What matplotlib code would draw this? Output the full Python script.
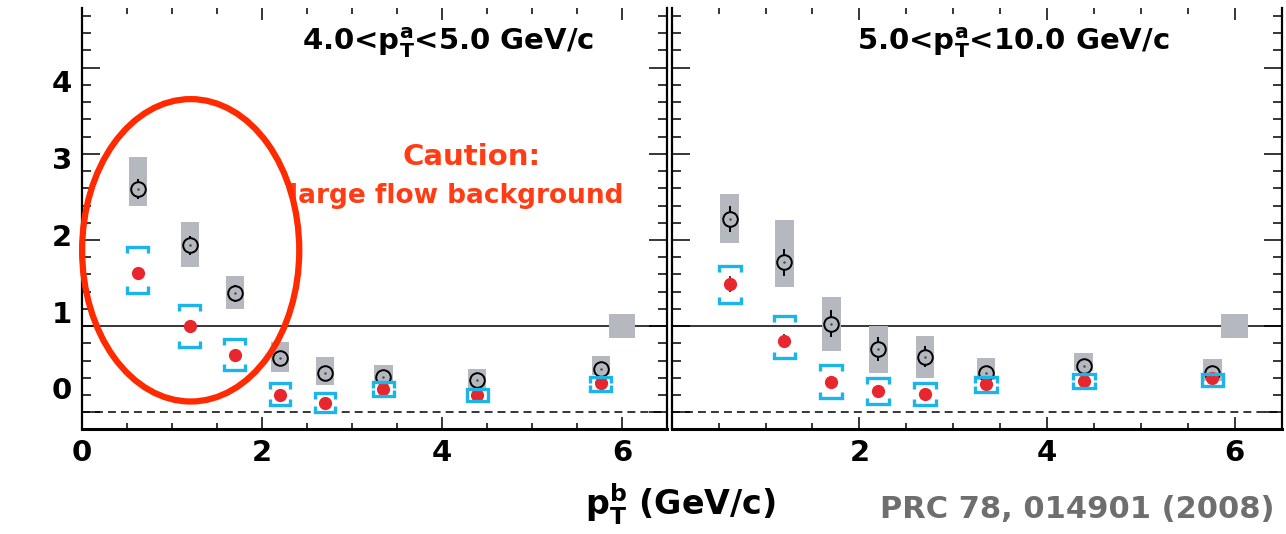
import numpy as np
import matplotlib
matplotlib.use("Agg")
import matplotlib.pyplot as plt
from matplotlib.patches import Ellipse
from matplotlib.ticker import MultipleLocator

plt.rcParams['font.family'] = ['DejaVu Sans']
plt.rcParams['font.weight'] = 'bold'
plt.rcParams['mathtext.fontset'] = 'dejavusans'

# associated-particle pT bins (same for both trigger bins)
pt_b = [0.62, 1.20, 1.70, 2.20, 2.70, 3.35, 4.39, 5.76]

# 4.0 < pT^a < 5.0 GeV/c
open_l = [2.59, 1.94, 1.38, 0.63, 0.45, 0.41, 0.375, 0.50]
open_l_err = [0.12, 0.11, 0.10, 0.08, 0.07, 0.05, 0.05, 0.07]
open_l_sys_lo = [2.40, 1.69, 1.195, 0.47, 0.317, 0.355, 0.28, 0.43]
open_l_sys_hi = [2.96, 2.21, 1.585, 0.82, 0.645, 0.55, 0.50, 0.65]
red_l = [1.62, 1.00, 0.66, 0.20, 0.11, 0.27, 0.20, 0.34]
red_l_err = [0.05, 0.05, 0.05, 0.04, 0.04, 0.03, 0.03, 0.04]
red_l_sys_lo = [1.39, 0.76, 0.49, 0.08, 0.0, 0.19, 0.13, 0.25]
red_l_sys_hi = [1.915, 1.24, 0.85, 0.34, 0.22, 0.355, 0.27, 0.41]

# 5.0 < pT^a < 10.0 GeV/c
open_r = [2.24, 1.74, 1.03, 0.73, 0.645, 0.45, 0.54, 0.46]
open_r_err = [0.15, 0.16, 0.16, 0.14, 0.12, 0.06, 0.06, 0.07]
open_r_sys_lo = [1.97, 1.45, 0.71, 0.45, 0.40, 0.375, 0.48, 0.36]
open_r_sys_hi = [2.53, 2.23, 1.34, 1.005, 0.88, 0.63, 0.69, 0.615]
red_r = [1.49, 0.83, 0.35, 0.25, 0.21, 0.325, 0.36, 0.395]
red_r_err = [0.09, 0.08, 0.07, 0.06, 0.05, 0.04, 0.04, 0.05]
red_r_sys_lo = [1.265, 0.63, 0.16, 0.10, 0.085, 0.23, 0.285, 0.30]
red_r_sys_hi = [1.70, 1.12, 0.55, 0.40, 0.34, 0.41, 0.44, 0.44]

# normalisation uncertainty box at pT^b = 6
norm_x = 6.0
norm_lo = 0.86
norm_hi = 1.14

titles = [r'4.0<p$_\mathbf{T}^\mathbf{a}$<5.0 GeV/c',
          r'5.0<p$_\mathbf{T}^\mathbf{a}$<10.0 GeV/c']

GRAY = '#b5b9bf'
RED = '#e8262e'
CYAN = '#1cb5ea'


def draw_brackets(ax, x, lo, hi, hw=0.115, leg=0.07):
    xs, ys = [], []
    for xi, l, h in zip(x, lo, hi):
        xs += [xi - hw, xi - hw, xi + hw, xi + hw, np.nan]
        ys += [h - leg, h, h, h - leg, np.nan]
        xs += [xi - hw, xi - hw, xi + hw, xi + hw, np.nan]
        ys += [l + leg, l, l, l + leg, np.nan]
    ax.plot(xs, ys, color=CYAN, lw=2.4, solid_joinstyle='miter',
            solid_capstyle='butt', zorder=6)


def draw_panel(ax, o, oerr, olo, ohi, r, rerr, rlo, rhi):
    x = np.array(pt_b)
    ax.axhline(1.0, color='black', lw=1.1, zorder=1)
    ax.axhline(0.0, color='black', lw=1.1, ls=(0, (5.2, 3.3)), zorder=1)
    ax.bar(x, np.array(ohi) - np.array(olo), bottom=olo, width=0.2,
           color=GRAY, zorder=2)
    ax.bar([norm_x], [norm_hi - norm_lo], bottom=[norm_lo], width=0.29,
           color=GRAY, zorder=2)
    ax.errorbar(x, o, yerr=oerr, fmt='o', ms=10.5, mfc=GRAY, mec='black',
                mew=1.4, ecolor='black', elinewidth=1.4, capsize=0, zorder=3)
    ax.plot(x, o, '.', color='#444444', ms=1.5, zorder=4)
    ax.errorbar(x, r, yerr=rerr, fmt='o', ms=9.5, mfc=RED, mec=RED, mew=0,
                ecolor='#3a1010', elinewidth=1.2, capsize=0, zorder=5)
    draw_brackets(ax, x, rlo, rhi)

    ax.set_xlim(0, 6.5)
    ax.set_ylim(-0.2, 4.687)
    ax.set_xticks([0, 2, 4, 6])
    ax.xaxis.set_minor_locator(MultipleLocator(0.5))
    ax.set_yticks([0, 1, 2, 3, 4])
    ax.yaxis.set_minor_locator(MultipleLocator(0.2))
    ax.set_yticklabels([])
    ax.tick_params(axis='x', which='major', direction='in', top=True,
                   length=8.6, width=1.1, labelsize=21, pad=7)
    ax.tick_params(axis='x', which='minor', direction='in', top=True,
                   length=4.3, width=1.1)
    ax.tick_params(axis='y', which='major', direction='in', right=True,
                   length=13, width=1.1)
    ax.tick_params(axis='y', which='minor', direction='in', right=True,
                   length=6.5, width=1.1)
    ax.spines['top'].set_visible(False)
    ax.spines['bottom'].set_linewidth(2.2)
    for s in ('left', 'right'):
        ax.spines[s].set_linewidth(1.6)


fig = plt.figure(figsize=(12.86, 5.34), dpi=100)
ax1 = fig.add_axes([0.0635, 0.1957, 0.4554, 0.7884])
ax2 = fig.add_axes([0.5223, 0.1957, 0.4744, 0.7884])

draw_panel(ax1, open_l, open_l_err, open_l_sys_lo, open_l_sys_hi,
           red_l, red_l_err, red_l_sys_lo, red_l_sys_hi)
draw_panel(ax2, open_r, open_r_err, open_r_sys_lo, open_r_sys_hi,
           red_r, red_r_err, red_r_sys_lo, red_r_sys_hi)
ax2.set_xticklabels(['', '2', '4', '6'])

# y labels sit on their own scale next to the tick marks
sec = ax1.secondary_yaxis('left', functions=(lambda y: (y - 0.276) / 0.8926,
                                             lambda v: 0.276 + 0.8926 * v))
sec.set_yticks([0, 1, 2, 3, 4])
sec.tick_params(length=0, labelsize=21, pad=7)
sec.spines['left'].set_visible(False)

ax1.text(2.44, 4.205, titles[0], fontsize=21, fontweight='bold',
         ha='left', va='baseline')
ax2.text(1.97, 4.205, titles[1], fontsize=21, fontweight='bold',
         ha='left', va='baseline')

# highlight the low-pT region
ax1.add_patch(Ellipse((1.21, 1.88), 2.41, 3.51, fill=False,
                      ec='#ff2a00', lw=4.5, clip_on=False, zorder=7))
ax1.text(4.33, 2.96, 'Caution:', color='#ff3c14', fontsize=21,
         fontweight='bold', ha='center', va='center')
ax1.text(4.16, 2.51, 'large flow background', color='#ff3c14', fontsize=19,
         fontweight='bold', ha='center', va='center')

fig.text(585 / 1286, 1 - 515 / 534, r'p$_\mathbf{T}^\mathbf{b}$ (GeV/c)',
         fontsize=24, fontweight='bold', ha='left', va='baseline')
fig.text(1275 / 1286, 1 - 518 / 534, 'PRC 78, 014901 (2008)',
         fontsize=22, fontweight='bold', color='#6e6e6e',
         ha='right', va='baseline')

fig.savefig('out.png', dpi=100)
